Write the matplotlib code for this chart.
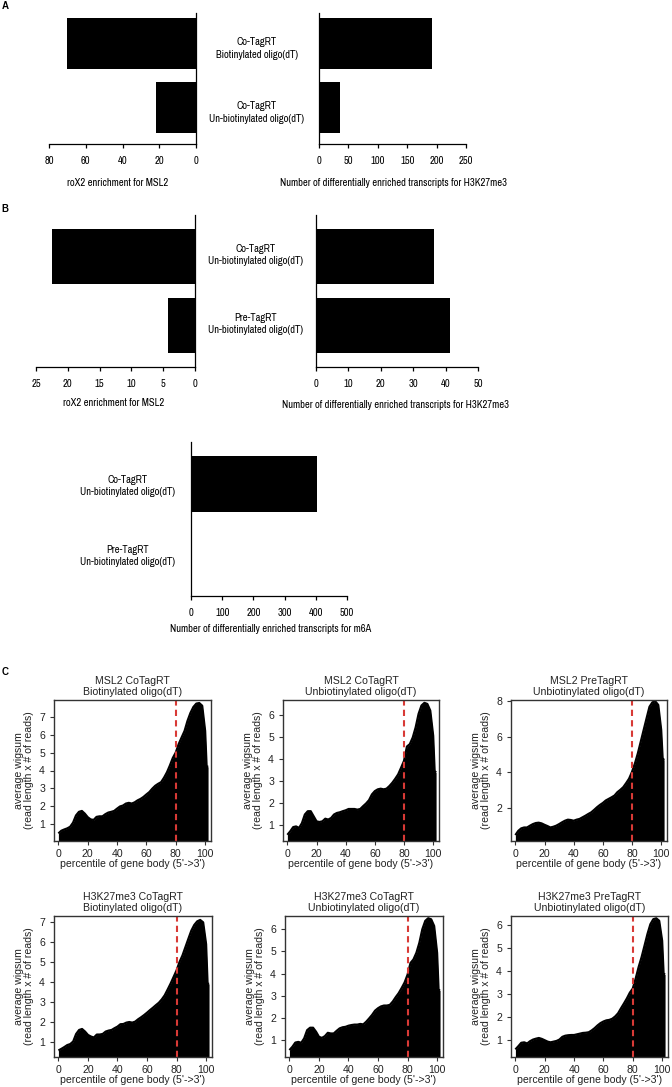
import matplotlib
matplotlib.use("Agg")
import matplotlib.pyplot as plt
from matplotlib.transforms import blended_transform_factory

# ---------------- data ----------------
# Panel A
a_categories = ["Co-TagRT\nBiotinylated oligo(dT)", "Co-TagRT\nUn-biotinylated oligo(dT)"]
a_rox2_msl2 = [70, 22]
a_h3k27me3 = [192, 35]
# Panel B
b_categories = ["Co-TagRT\nUn-biotinylated oligo(dT)", "Pre-TagRT\nUn-biotinylated oligo(dT)"]
b_rox2_msl2 = [22.5, 4.2]
b_h3k27me3 = [36.5, 41.5]
b_m6a = [404, 0]
# Panel C (percentile of gene body)
pct = [0, 2, 4, 6, 8, 10, 12, 14, 16, 18, 20, 22, 24, 26, 28, 30, 32, 34, 36, 38,
       40, 42, 44, 46, 48, 50, 52, 54, 56, 58, 60, 62, 64, 66, 68, 70, 72, 74, 76, 78,
       80, 82, 84, 86, 88, 90, 92, 94, 96, 98, 100, 101, 102]
msl2_co_bio = [0.50, 0.65, 0.72, 0.78, 0.87, 1.10, 1.50, 1.70, 1.75, 1.60, 1.40, 1.28, 1.25,
               1.42, 1.45, 1.45, 1.57, 1.66, 1.70, 1.75, 1.88, 2.00, 2.05, 2.16, 2.20, 2.16,
               2.23, 2.34, 2.42, 2.53, 2.67, 2.80, 2.99, 3.15, 3.26, 3.35, 3.60, 3.90, 4.28,
               4.70, 5.00, 5.47, 5.84, 6.20, 6.76, 7.20, 7.53, 7.72, 7.75, 7.60, 6.20, 4.25, 4.20]
msl2_co_unbio = [0.57, 0.73, 0.92, 0.95, 0.88, 1.10, 1.49, 1.64, 1.64, 1.41, 1.18, 1.15, 1.18,
                 1.30, 1.26, 1.33, 1.49, 1.56, 1.59, 1.64, 1.68, 1.74, 1.74, 1.74, 1.71, 1.74,
                 1.87, 1.99, 2.14, 2.40, 2.55, 2.63, 2.66, 2.63, 2.66, 2.78, 2.93, 3.11, 3.31,
                 3.61, 3.92, 4.57, 4.68, 4.98, 5.44, 6.05, 6.43, 6.55, 6.50, 6.20, 5.06, 3.46, 3.40]
msl2_pre_unbio = [0.47, 0.71, 0.85, 0.90, 0.90, 1.00, 1.09, 1.15, 1.17, 1.13, 1.05, 0.98, 0.90,
                  0.94, 1.00, 1.09, 1.19, 1.28, 1.34, 1.32, 1.28, 1.34, 1.38, 1.47, 1.56, 1.66,
                  1.75, 1.89, 2.04, 2.17, 2.28, 2.42, 2.51, 2.60, 2.70, 2.89, 3.02, 3.17, 3.40,
                  3.65, 4.03, 4.50, 5.07, 5.73, 6.39, 7.05, 7.70, 7.95, 8.00, 7.80, 6.40, 4.80, 4.70]
h3k_co_bio = [0.55, 0.63, 0.72, 0.82, 0.87, 1.00, 1.38, 1.58, 1.63, 1.50, 1.33, 1.25, 1.20,
              1.35, 1.35, 1.38, 1.50, 1.55, 1.58, 1.67, 1.75, 1.87, 1.88, 1.95, 1.98, 1.95,
              2.00, 2.12, 2.22, 2.33, 2.45, 2.58, 2.70, 2.83, 2.95, 3.12, 3.33, 3.62, 3.92,
              4.25, 4.58, 5.00, 5.33, 5.75, 6.17, 6.58, 6.87, 7.05, 7.12, 7.00, 5.90, 3.92, 3.90]
h3k_co_unbio = [0.55, 0.70, 0.89, 0.92, 0.88, 1.08, 1.45, 1.56, 1.56, 1.38, 1.15, 1.10, 1.18,
                1.33, 1.30, 1.30, 1.42, 1.53, 1.58, 1.60, 1.65, 1.68, 1.70, 1.70, 1.73, 1.71,
                1.83, 1.98, 2.14, 2.33, 2.44, 2.52, 2.56, 2.56, 2.59, 2.74, 2.94, 3.12, 3.35,
                3.60, 3.95, 4.48, 4.64, 4.94, 5.39, 6.00, 6.38, 6.50, 6.45, 6.15, 4.94, 3.27, 3.25]
h3k_pre_unbio = [0.57, 0.71, 0.86, 0.88, 0.83, 0.93, 1.00, 1.04, 1.07, 1.03, 0.97, 0.91, 0.88,
                 0.91, 0.94, 1.00, 1.12, 1.17, 1.19, 1.20, 1.20, 1.23, 1.26, 1.29, 1.30, 1.32,
                 1.40, 1.50, 1.62, 1.72, 1.79, 1.84, 1.86, 1.91, 2.01, 2.15, 2.37, 2.58, 2.80,
                 3.05, 3.23, 3.67, 4.17, 4.60, 5.10, 5.61, 6.04, 6.26, 6.30, 6.19, 5.32, 3.88, 3.85]

c_titles = ["MSL2 CoTagRT\nBiotinylated oligo(dT)", "MSL2 CoTagRT\nUnbiotinylated oligo(dT)",
            "MSL2 PreTagRT\nUnbiotinylated oligo(dT)", "H3K27me3 CoTagRT\nBiotinylated oligo(dT)",
            "H3K27me3 CoTagRT\nUnbiotinylated oligo(dT)", "H3K27me3 PreTagRT\nUnbiotinylated oligo(dT)"]
c_series = [msl2_co_bio, msl2_co_unbio, msl2_pre_unbio, h3k_co_bio, h3k_co_unbio, h3k_pre_unbio]
c_yticks = [[1, 2, 3, 4, 5, 6, 7], [1, 2, 3, 4, 5, 6], [2, 4, 6, 8],
            [1, 2, 3, 4, 5, 6, 7], [1, 2, 3, 4, 5, 6], [1, 2, 3, 4, 5, 6]]

# ---------------- layout ----------------
W, H = 672, 1087
fig = plt.figure(figsize=(W / 100, H / 100), dpi=100)

NARROW = ["Archivo Narrow", "Roboto Condensed", "Liberation Sans", "DejaVu Sans"]
SANS = ["Liberation Sans", "DejaVu Sans"]
BAR_FS = 7.6
C_FS = 7.6


def box(l, t, r, b):
    return [l / W, 1 - b / H, (r - l) / W, (b - t) / H]


def fx(x):
    return x / W


def fy(y):
    return 1 - y / H


def bar_axes(rect, vals, xlim, xticks, side, ylim):
    ax = fig.add_axes(box(*rect))
    pos = [1, 0]
    ax.barh(pos, vals, height=0.8, color="black")
    ax.set_xlim(*xlim)
    ax.set_ylim(*ylim)
    ax.set_xticks(xticks)
    ax.set_xticklabels([str(t) for t in xticks], fontfamily=NARROW, fontsize=BAR_FS)
    ax.set_yticks([])
    ax.spines["top"].set_visible(False)
    if side == "right":
        ax.spines["left"].set_visible(False)
    else:
        ax.spines["right"].set_visible(False)
    for s in ax.spines.values():
        s.set_linewidth(0.9)
        s.set_color("black")
    ax.tick_params(axis="x", direction="out", length=3.2, width=0.9, pad=5.5)
    ax.patch.set_visible(False)
    return ax


# Panel A
axA1 = bar_axes((49, 13, 196, 144), a_rox2_msl2, (80, 0), [80, 60, 40, 20, 0], "right", (-0.573, 1.478))
axA2 = bar_axes((319, 13, 466, 144), a_h3k27me3, (0, 250), [0, 50, 100, 150, 200, 250], "left", (-0.573, 1.478))
fig.text(fx(118), fy(183), "roX2 enrichment for MSL2", ha="center", va="center",
         fontfamily=NARROW, fontsize=BAR_FS)
fig.text(fx(393), fy(183), "Number of differentially enriched transcripts for H3K27me3",
         ha="center", va="center", fontfamily=NARROW, fontsize=BAR_FS)
trA = blended_transform_factory(fig.transFigure, axA1.transData)
for p, lab in zip([1, 0], a_categories):
    axA1.text(fx(257), p - 0.08, lab, transform=trA, ha="center", va="center",
              fontfamily=NARROW, fontsize=BAR_FS, linespacing=1.3)

# Panel B
axB1 = bar_axes((36, 215, 195, 367), b_rox2_msl2, (25, 0), [25, 20, 15, 10, 5, 0], "right", (-0.6, 1.6))
axB2 = bar_axes((316, 215, 478, 367), b_h3k27me3, (0, 50), [0, 10, 20, 30, 40, 50], "left", (-0.6, 1.6))
fig.text(fx(114), fy(403), "roX2 enrichment for MSL2", ha="center", va="center",
         fontfamily=NARROW, fontsize=BAR_FS)
fig.text(fx(396), fy(405), "Number of differentially enriched transcripts for H3K27me3",
         ha="center", va="center", fontfamily=NARROW, fontsize=BAR_FS)
trB = blended_transform_factory(fig.transFigure, axB1.transData)
for p, lab in zip([1, 0], b_categories):
    axB1.text(fx(256), p + 0.02, lab, transform=trB, ha="center", va="center",
              fontfamily=NARROW, fontsize=BAR_FS, linespacing=1.3)

axM = bar_axes((191, 442, 347, 596), b_m6a, (0, 500), [0, 100, 200, 300, 400, 500], "left", (-0.6, 1.6))
fig.text(fx(271), fy(629), "Number of differentially enriched transcripts for m6A",
         ha="center", va="center", fontfamily=NARROW, fontsize=BAR_FS)
trM = blended_transform_factory(fig.transFigure, axM.transData)
for p, lab in zip([1, 0], b_categories):
    axM.text(fx(128), p - 0.03, lab, transform=trM, ha="center", va="center",
             fontfamily=NARROW, fontsize=BAR_FS, linespacing=1.3)

# Panel labels
for lab, (x, y) in zip("ABC", [(5, 6), (5, 209), (5, 672)]):
    fig.text(fx(x), fy(y), lab, ha="center", va="center", fontweight="bold",
             fontfamily=SANS, fontsize=7)

# Panel C
c_rects = [(54, 700, 211, 841), (283, 700, 439, 841), (511, 700, 667, 841),
           (54, 916, 212, 1057), (285, 916, 443, 1057), (511, 916, 668, 1057)]
c_ylims = [(0.08, 7.92), (0.29, 6.68), (0.14, 8.08), (0.22, 7.32), (0.24, 6.6), (0.24, 6.4)]
RED = "#d83a36"
for i, (rect, vals, title, yt, yl) in enumerate(zip(c_rects, c_series, c_titles, c_yticks, c_ylims)):
    ax = fig.add_axes(box(*rect))
    ax.fill_between(pct, vals, -1, color="black", lw=0)
    ax.plot(pct, vals, color="black", lw=1.6, solid_capstyle="butt")
    ax.axvline(80, color=RED, lw=1.5, ls=(0, (3, 2)))
    ax.set_xlim(-3, 104)
    ax.set_ylim(*yl)
    ax.set_xticks([0, 20, 40, 60, 80, 100])
    ax.set_yticks(yt)
    for lbl in ax.get_xticklabels() + ax.get_yticklabels():
        lbl.set_fontfamily(SANS)
        lbl.set_fontsize(C_FS)
        lbl.set_color("#222222")
    ax.tick_params(direction="out", length=3, width=0.8, color="#333333")
    ax.tick_params(axis="x", pad=2.5)
    ax.tick_params(axis="y", pad=3.5)
    for s in ax.spines.values():
        s.set_linewidth(1.0)
        s.set_color("#333333")
    ax.set_title(title, fontfamily=SANS, fontsize=C_FS, pad=3.5, linespacing=1.2, color="#222222")
    l, t, r, b = rect
    fig.text(fx(l - 30), fy((t + b) / 2), "average wigsum\n(read length x # of reads)",
             rotation=90, ha="center", va="center", fontfamily=SANS, fontsize=C_FS,
             linespacing=1.05, color="#222222")
    fig.text(fx((l + r) / 2), fy(b + 23), "percentile of gene body (5'->3')",
             ha="center", va="center", fontfamily=SANS, fontsize=C_FS, color="#222222")

fig.savefig("out.png", dpi=100)
